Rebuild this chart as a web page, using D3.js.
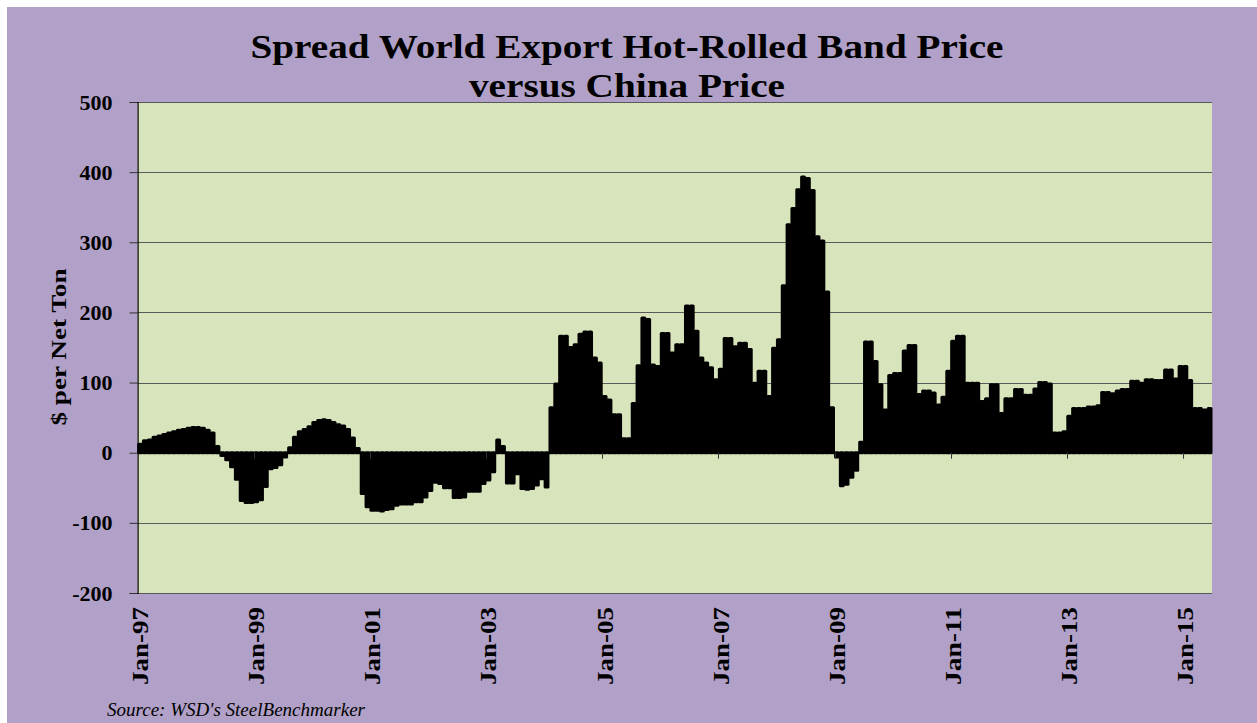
<!DOCTYPE html>
<html>
<head>
<meta charset="utf-8">
<script src="https://cdn.jsdelivr.net/npm/d3@7"></script>
<style>
  body { margin: 0; background: #fff; }
  svg text { font-family: "Palatino Linotype", "Book Antiqua", Palatino, "Liberation Serif", serif; }
</style>
</head>
<body>
<div id="chart"></div>
<script>
// monthly spread, $ per net ton, Jan-97 .. Jun-15
var y1997 = [12, 17, 18, 22, 24, 26, 28, 30, 32, 33, 35, 36];
var y1998 = [36, 35, 32, 28, 9, -4, -10, -20, -38, -68, -71, -71];
var y1999 = [-70, -67, -48, -23, -21, -17, -6, 7, 22, 30, 33, 37];
var y2000 = [43, 46, 47, 46, 43, 40, 38, 33, 21, 6, -58, -77];
var y2001 = [-82, -82, -83, -81, -80, -75, -73, -73, -73, -70, -70, -63];
var y2002 = [-54, -42, -44, -50, -50, -64, -64, -63, -55, -55, -55, -44];
var y2003 = [-39, -27, 18, 9, -43, -43, -30, -51, -52, -51, -46, -37];
var y2004 = [-49, 64, 98, 166, 166, 150, 154, 169, 172, 172, 135, 128];
var y2005 = [80, 75, 54, 54, 20, 20, 70, 124, 192, 190, 125, 123];
var y2006 = [170, 170, 142, 154, 154, 209, 209, 173, 135, 128, 121, 104];
var y2007 = [119, 163, 163, 151, 156, 156, 147, 99, 116, 116, 80, 149];
var y2008 = [161, 238, 325, 348, 375, 393, 391, 374, 308, 302, 229, 64];
var y2009 = [-6, -47, -45, -35, -25, 15, 158, 158, 130, 97, 61, 110];
var y2010 = [113, 113, 145, 153, 153, 83, 88, 88, 85, 68, 79, 116];
var y2011 = [159, 166, 166, 99, 99, 99, 73, 77, 97, 97, 56, 77];
var y2012 = [77, 90, 90, 82, 82, 91, 100, 100, 98, 28, 28, 30];
var y2013 = [52, 63, 63, 63, 65, 65, 67, 86, 86, 84, 88, 90];
var y2014 = [90, 102, 102, 99, 104, 104, 103, 103, 118, 118, 105, 123];
var y2015 = [123, 103, 63, 63, 61, 63];

var xTickLabels = ["Jan-97", "Jan-99", "Jan-01", "Jan-03", "Jan-05", "Jan-07", "Jan-09", "Jan-11", "Jan-13", "Jan-15"];
var yTicks = [-200, -100, 0, 100, 200, 300, 400, 500];

var spread = [].concat(y1997, y1998, y1999, y2000, y2001, y2002, y2003, y2004, y2005,
    y2006, y2007, y2008, y2009, y2010, y2011, y2012, y2013, y2014, y2015);

var fmt = d3.timeFormat("%b-%y");
var months = d3.timeMonths(new Date(1997, 0, 1), new Date(1997, spread.length, 1)).map(fmt);

var W = 1257, H = 723;
var plotL = 137.6, plotR = 1212, plotT = 102, plotB = 593;

var svg = d3.select("#chart").append("svg").attr("width", W).attr("height", H);

// purple chart area
svg.append("rect").attr("x", 7).attr("y", 7).attr("width", W - 7).attr("height", H - 7)
    .attr("fill", "#b1a0c7");

// plot area
svg.append("rect").attr("x", plotL).attr("y", plotT).attr("width", plotR - plotL).attr("height", plotB - plotT)
    .attr("fill", "#d8e4bc");

var x = d3.scaleBand().domain(months).range([plotL, plotR]).padding(0);
var y = d3.scaleLinear().domain([-200, 500]).range([plotB, plotT]);

// gridlines
svg.append("g").selectAll("line").data(yTicks.filter(function (d) { return d !== 0; }))
    .enter().append("line")
    .attr("x1", plotL).attr("x2", plotR)
    .attr("y1", function (d) { return Math.round(y(d)) + 0.5; })
    .attr("y2", function (d) { return Math.round(y(d)) + 0.5; })
    .attr("stroke", "#5a5a5a").attr("stroke-width", 1);

// bars
svg.append("g").selectAll("rect").data(spread).enter().append("rect")
    .attr("x", function (d, i) { return x(months[i]) + 1; })
    .attr("width", x.bandwidth() - 2)
    .attr("y", function (d) { return y(Math.max(0, d)); })
    .attr("height", function (d) { return Math.abs(y(d) - y(0)); })
    .attr("fill", "#000")
    .attr("stroke", "#000")
    .attr("stroke-width", 3)
    .attr("stroke-linejoin", "round");

// category axis sits on zero, ticks every 24 months between categories
var tickMonths = months.filter(function (m, i) { return i % 24 === 0 && i > 0; });
svg.append("g").selectAll("line").data(tickMonths).enter().append("line")
    .attr("x1", function (d) { return Math.round(x(d)) + 0.5; })
    .attr("x2", function (d) { return Math.round(x(d)) + 0.5; })
    .attr("y1", y(0)).attr("y2", y(0) + 6)
    .attr("stroke", "#333").attr("stroke-width", 1);

// value axis
var yAxis = svg.append("g").attr("transform", "translate(" + plotL + ",0)")
    .call(d3.axisLeft(y).tickValues(yTicks).tickSize(8).tickPadding(17)
        .tickFormat(function (d) { return String(d); }));
yAxis.select(".domain").attr("stroke", "#000").attr("stroke-width", 1.2);
yAxis.selectAll(".tick line").attr("stroke", "#333");
yAxis.selectAll(".tick text")
    .attr("font-family", "'Palatino Linotype', 'Liberation Serif', serif")
    .attr("font-size", 22).attr("font-weight", "bold").attr("fill", "#000");

// x labels along the bottom
svg.append("g").selectAll("text").data(xTickLabels).enter().append("text")
    .attr("transform", function (d) {
        return "translate(" + (x(d) + x.bandwidth() / 2 + 8) + ",607) rotate(-90)";
    })
    .attr("text-anchor", "end")
    .attr("font-size", 23).attr("font-weight", "bold")
    .attr("textLength", 78).attr("lengthAdjust", "spacingAndGlyphs")
    .text(function (d) { return d; });

// axis title
svg.append("text")
    .attr("transform", "translate(66,347) rotate(-90)")
    .attr("text-anchor", "middle")
    .attr("font-size", 22).attr("font-weight", "bold")
    .attr("textLength", 157).attr("lengthAdjust", "spacingAndGlyphs")
    .text("$ per Net Ton");

// title
var title = svg.append("text").attr("text-anchor", "middle")
    .attr("font-size", 34).attr("font-weight", "bold")
    .attr("lengthAdjust", "spacingAndGlyphs");
title.append("tspan").attr("x", 627).attr("y", 58).attr("textLength", 753)
    .attr("lengthAdjust", "spacingAndGlyphs").text("Spread World Export Hot-Rolled Band Price");
title.append("tspan").attr("x", 627).attr("y", 97).attr("textLength", 316)
    .attr("lengthAdjust", "spacingAndGlyphs").text("versus China Price");

// source
svg.append("text").attr("x", 107).attr("y", 716)
    .attr("font-size", 18).attr("font-style", "italic")
    .attr("textLength", 258).attr("lengthAdjust", "spacingAndGlyphs")
    .text("Source:  WSD's SteelBenchmarker");
</script>
</body>
</html>
